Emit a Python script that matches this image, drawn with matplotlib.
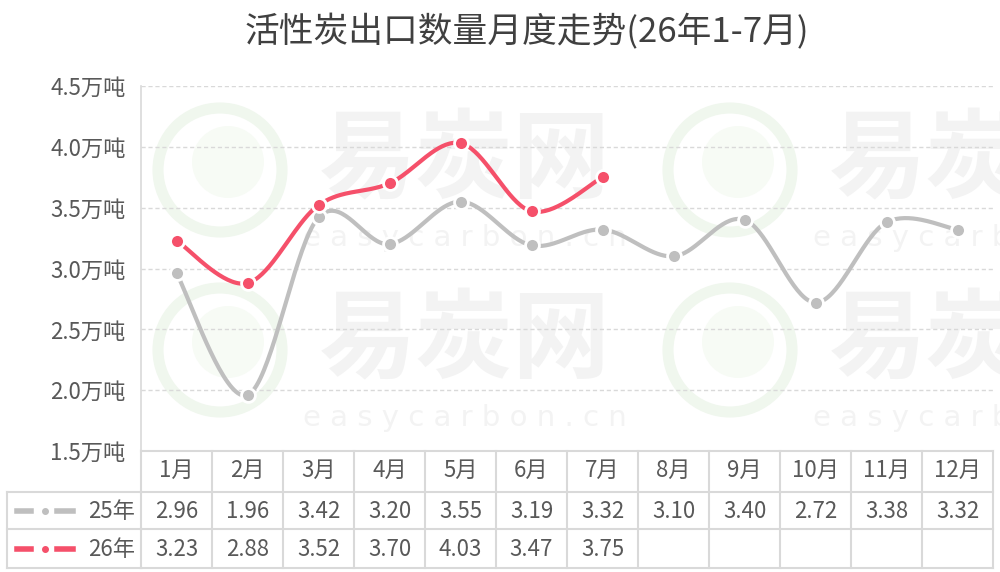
import numpy as np
import matplotlib
matplotlib.use('Agg')
import matplotlib.pyplot as plt
import matplotlib.transforms as mtransforms
from matplotlib.patches import Circle

plt.rcParams['font.family'] = ['Noto Sans CJK SC', 'DejaVu Sans']

months = ['1月', '2月', '3月', '4月', '5月', '6月', '7月', '8月', '9月', '10月', '11月', '12月']
y25 = [2.96, 1.96, 3.42, 3.20, 3.55, 3.19, 3.32, 3.10, 3.40, 2.72, 3.38, 3.32]
y26 = [3.23, 2.88, 3.52, 3.70, 4.03, 3.47, 3.75]
series_names = ['25年', '26年']
yticks = [1.5, 2.0, 2.5, 3.0, 3.5, 4.0, 4.5]
title = '活性炭出口数量月度走势(26年1-7月)'

c25 = '#bfbfbf'
c26 = '#f5506a'
grid_c = '#d9d9d9'
txt_c = '#595959'
fs = 16


def smooth(x, y, n=40):
    # bezier through the points, excel-like smoothing
    pts = np.column_stack([x, y]).astype(float)
    out = [pts[:1]]
    for i in range(len(pts) - 1):
        p0 = pts[i - 1] if i > 0 else pts[i]
        p1, p2 = pts[i], pts[i + 1]
        p3 = pts[i + 2] if i + 2 < len(pts) else pts[i + 1]
        c1 = p1 + (p2 - p0) / 6
        c2 = p2 - (p3 - p1) / 6
        t = np.linspace(0, 1, n)[1:, None]
        seg = (1 - t)**3 * p1 + 3 * (1 - t)**2 * t * c1 + 3 * (1 - t) * t**2 * c2 + t**3 * p2
        out.append(seg)
    s = np.vstack(out)
    return s[:, 0], s[:, 1]


fig = plt.figure(figsize=(10, 5.72), dpi=100)

# background layer in pixel coords (watermark + table)
bg = fig.add_axes([0, 0, 1, 1], zorder=0)
bg.set_xlim(0, 1000)
bg.set_ylim(572, 0)
bg.axis('off')

for dx in [0, 510]:
    for dy in [0, 180]:
        bg.add_patch(Circle((220 + dx, 170 + dy), 62, fill=False, ec='#f0f7ee', lw=8))
        bg.add_patch(Circle((228 + dx, 162 + dy), 36, fc='#f7fbf5', ec='none'))
        bg.text(465 + dx, 162 + dy, '易炭网', fontsize=70, fontweight='bold', color='#f3f3f3',
                ha='center', va='center')
        bg.text(465 + dx, 238 + dy, 'e a s y c a r b o n . c n', fontsize=21, color='#f3f3f3',
                ha='center', va='center', family='DejaVu Sans')

ax = fig.add_axes([141 / 1000, 1 - 451 / 572, 852 / 1000, 365 / 572], zorder=1)
ax.patch.set_alpha(0)
x = np.arange(len(months))
ax.set_xlim(-0.5, len(months) - 0.5)
ax.set_ylim(1.5, 4.5)
ax.set_yticks(yticks)
ax.set_yticklabels([f'{v:.1f}万吨' for v in yticks], color=txt_c, fontsize=fs)
ax.tick_params(axis='y', length=0, pad=11)
ax.set_xticks([])
ax.grid(axis='y', color=grid_c, ls=(0, (3, 2)), lw=1)
for s in ['top', 'right', 'bottom']:
    ax.spines[s].set_visible(False)
ax.spines['left'].set_color(grid_c)
ax.spines['left'].set_linewidth(1.2)

sx, sy = smooth(x, y25)
ax.plot(sx, sy, color=c25, lw=3, solid_capstyle='round', zorder=3)
ax.plot(x, y25, 'o', color=c25, ms=10, mec='white', mew=2, zorder=4)
x26 = np.arange(len(y26))
sx, sy = smooth(x26, y26)
ax.plot(sx, sy, color=c26, lw=3, solid_capstyle='round', zorder=5)
ax.plot(x26, y26, 'o', color=c26, ms=10, mec='white', mew=2, zorder=6)

fig.text(0.527, 1 - 32 / 572, title, ha='center', va='center', fontsize=25, color='#404040')

# data table under the plot
tr = mtransforms.blended_transform_factory(ax.transData, bg.transData)
lw = 1.5
n = len(months)
bg.plot([-0.5, n - 0.5], [451, 451], color=grid_c, lw=lw, transform=tr, clip_on=False)
for yy in [492, 529, 568]:
    bg.plot([7, 141], [yy, yy], color=grid_c, lw=lw, clip_on=False)
    bg.plot([-0.5, n - 0.5], [yy, yy], color=grid_c, lw=lw, transform=tr, clip_on=False)
for k in range(n + 1):
    bg.plot([k - 0.5, k - 0.5], [451, 568], color=grid_c, lw=lw, transform=tr, clip_on=False)
bg.plot([7, 7], [492, 568], color=grid_c, lw=lw, clip_on=False)

for i, m in enumerate(months):
    bg.text(i, 470, m, ha='center', va='center', fontsize=fs, color=txt_c, transform=tr)
for i, v in enumerate(y25):
    bg.text(i, 511, f'{v:.2f}', ha='center', va='center', fontsize=fs, color=txt_c, transform=tr)
for i, v in enumerate(y26):
    bg.text(i, 549, f'{v:.2f}', ha='center', va='center', fontsize=fs, color=txt_c, transform=tr)

for name, col, yy in zip(series_names, [c25, c26], [511, 549]):
    bg.plot([17, 31], [yy, yy], color=col, lw=4)
    bg.plot([57, 73], [yy, yy], color=col, lw=4)
    bg.plot([45], [yy], 'o', color=col, ms=4)
    bg.text(135, yy, name, ha='right', va='center', fontsize=fs, color=txt_c)

fig.savefig('out.png', dpi=100, facecolor='white')
